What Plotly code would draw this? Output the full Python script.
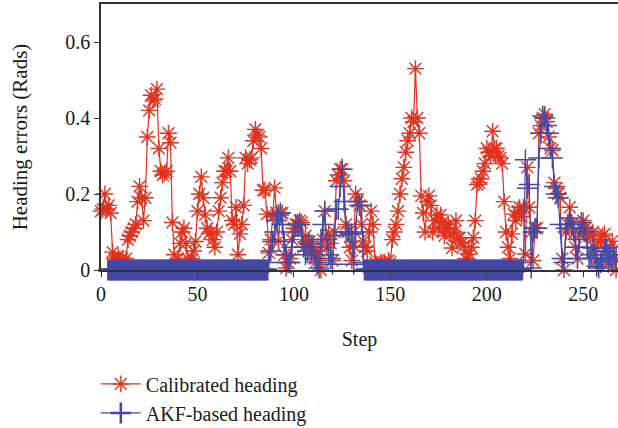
import plotly.graph_objects as go

# Calibrated heading error, steps 0..267
calibrated = [
    0.155, 0.16, 0.20, 0.16, 0.17, 0.15, 0.047, 0.03, 0.02, 0.035,
    0.025, 0.03, 0.02, 0.03, 0.08, 0.09, 0.10, 0.11, 0.12, 0.18,
    0.22, 0.19, 0.13, 0.19, 0.35, 0.42, 0.46, 0.445, 0.45, 0.476,
    0.32, 0.26, 0.25, 0.255, 0.26, 0.36, 0.335, 0.125, 0.04, 0.015,
    0.03, 0.07, 0.10, 0.11, 0.07, 0.03, 0.02, 0.03, 0.05, 0.075,
    0.155, 0.20, 0.245, 0.19, 0.145, 0.11, 0.095, 0.10, 0.08, 0.06,
    0.10, 0.155, 0.19, 0.23, 0.26, 0.26, 0.295, 0.26, 0.13, 0.12,
    0.165, 0.04, 0.095, 0.12, 0.17, 0.295, 0.28, 0.29, 0.295, 0.34,
    0.37, 0.355, 0.35, 0.32, 0.21, 0.21, 0.147, 0.045, 0.08, 0.14,
    0.216, 0.15, 0.076, 0.15, 0.15, 0.04, 0.005, 0.02, 0.03, 0.08,
    0.11, 0.12, 0.12, 0.13, 0.125, 0.06, 0.09, 0.07, 0.075, 0.04,
    0.06, 0.03, 0.025, 0.05, 0.0, 0.08, 0.155, 0.06, 0.095, 0.07,
    0.025, 0.10, 0.235, 0.25, 0.265, 0.265, 0.235, 0.12, 0.10, 0.06,
    0.025, 0.063, 0.20, 0.18, 0.17, 0.12, 0.076, 0.06, 0.05, 0.10,
    0.155, 0.12, 0.02, 0.015, 0.01, 0.02, 0.015, 0.02, 0.01, 0.025,
    0.02, 0.08, 0.10, 0.12, 0.155, 0.20, 0.24, 0.27, 0.31, 0.34,
    0.36, 0.40, 0.39, 0.53, 0.40, 0.36, 0.195, 0.15, 0.10, 0.18,
    0.195, 0.17, 0.10, 0.13, 0.145, 0.11, 0.145, 0.125, 0.09, 0.11,
    0.12, 0.095, 0.058, 0.10, 0.13, 0.085, 0.085, 0.07, 0.063, 0.03,
    0.025, 0.042, 0.06, 0.085, 0.13, 0.225, 0.23, 0.24, 0.26, 0.28,
    0.32, 0.31, 0.30, 0.365, 0.32, 0.32, 0.30, 0.295, 0.28, 0.18,
    0.10, 0.06, 0.03, 0.095, 0.147, 0.13, 0.155, 0.165, 0.14, 0.165,
    0.042, 0.27, 0.165, 0.10, 0.025, 0.11, 0.11, 0.36, 0.38, 0.40,
    0.41, 0.39, 0.35, 0.32, 0.315, 0.23, 0.215, 0.20, 0.19, 0.03,
    0.0, 0.10, 0.12, 0.165, 0.12, 0.095, 0.06, 0.03, 0.095, 0.12,
    0.13, 0.11, 0.10, 0.09, 0.095, 0.10, 0.06, 0.025, 0.076, 0.08,
    0.09, 0.095, 0.05, 0.015, 0.06, 0.076, 0.03, 0.0,
]

# AKF-based heading error, steps 0..267 (None = no sample drawn)
akf = [
    None, None, None, None, 0, 0, 0, 0, 0, 0,
    0, 0, 0, 0, 0, 0, 0, 0, 0, 0,
    0, 0, 0, 0, 0, 0, 0, 0, 0, 0,
    0, 0, 0, 0, 0, 0, 0, 0, 0, 0,
    0, 0, 0, 0, 0, 0, 0, 0, 0, 0,
    0, 0, 0, 0, 0, 0, 0, 0, 0, 0,
    0, 0, 0, 0, 0, 0, 0, 0, 0, 0,
    0, 0, 0, 0, 0, 0, 0, 0, 0, 0,
    0, 0, 0, 0, 0, 0, 0, 0.02, 0.05, 0.075,
    0.10, 0.13, 0.145, 0.15, 0.12, 0.075, 0.04, 0.02, 0.02, 0.06,
    0.10, 0.12, 0.12, 0.12, 0.09, 0.06, 0.04, 0.05, 0.07, 0.06,
    0.06, 0.03, 0.02, 0.005, 0.08, 0.12, 0.155, 0.08, 0.04, 0.03,
    0.015, 0.09, 0.16, 0.16, 0.22, 0.265, 0.18, 0.10, 0.10, 0.095,
    0.095, 0.015, 0.10, 0.18, 0.17, 0.17, 0.02, 0, 0, 0,
    0, 0, 0, 0, 0, 0, 0, 0, 0, 0,
    0, 0, 0, 0, 0, 0, 0, 0, 0, 0,
    0, 0, 0, 0, 0, 0, 0, 0, 0, 0,
    0, 0, 0, 0, 0, 0, 0, 0, 0, 0,
    0, 0, 0, 0, 0, 0, 0, 0, 0, 0,
    0, 0, 0, 0, 0, 0, 0, 0, 0, 0,
    0, 0, 0, 0, 0, 0, 0, 0, 0, 0,
    0, 0, 0, 0, 0, 0, 0, 0, 0, 0.02,
    0.29, 0.215, 0.225, 0.005, 0.10, 0.11, 0.11, 0.295, 0.36, 0.405,
    0.40, 0.38, 0.36, 0.32, 0.295, 0.22, 0.20, 0.19, 0.12, 0.03,
    0.02, 0.11, 0.12, 0.137, 0.12, 0.11, 0.06, 0.03, 0.08, 0.125,
    0.11, 0.10, 0.06, 0.03, 0.04, 0.058, 0.03, 0.01, 0.005, 0.02,
    0.03, 0.05, 0.058, 0.04, 0.03, 0.025, 0.04, 0.03,
]

steps = list(range(len(calibrated)))
x_ticks = [0, 50, 100, 150, 200, 250]
y_ticks = [0, 0.2, 0.4, 0.6]
y_ticklabels = ["0", "0.2", "0.4", "0.6"]

RED = "#E2311D"
BLUE = "#4349A5"
FONT = "Liberation Serif"

# dense zero-valued markers merge into a solid band in the original rendering
blue_marker_widths = [3.2 if v == 0 else 1.5 for v in akf]

fig = go.Figure()
fig.add_trace(go.Scatter(
    x=steps, y=calibrated, mode="lines+markers", name="Calibrated heading",
    line=dict(color=RED, width=1.2),
    marker=dict(symbol="asterisk-open", size=14, color=RED,
                line=dict(color=RED, width=1.4)),
    cliponaxis=False,
))
fig.add_trace(go.Scatter(
    x=steps, y=akf, mode="lines+markers", name="AKF-based heading",
    line=dict(color=BLUE, width=1.2),
    marker=dict(symbol="cross-thin-open", size=15, color=BLUE,
                line=dict(color=BLUE, width=blue_marker_widths)),
    cliponaxis=False,
))

fig.update_layout(
    width=618, height=428,
    margin=dict(l=101, r=0, t=4, b=158, autoexpand=False),
    paper_bgcolor="white", plot_bgcolor="white",
    font=dict(family=FONT, size=20, color="#1a1a1a"),
    showlegend=True,
    legend=dict(x=-0.01, y=-0.355, xanchor="left", yanchor="top",
                font=dict(family=FONT, size=20), tracegroupgap=0,
                itemwidth=40, bgcolor="rgba(0,0,0,0)"),
)
fig.update_xaxes(
    range=[0, 268], tickvals=x_ticks, showgrid=False, zeroline=False,
    showline=True, linecolor="#333333", linewidth=1.5, mirror=True,
    ticks="outside", ticklen=5, tickcolor="#333333", automargin=False,
    title=dict(text="Step", standoff=28, font=dict(family=FONT, size=20)),
)
fig.update_yaxes(
    range=[0, 0.7], tickvals=y_ticks, ticktext=y_ticklabels, showgrid=False,
    zeroline=False, showline=True, linecolor="#333333", linewidth=1.5,
    ticks="outside", ticklen=5, tickcolor="#333333", automargin=False,
    title=dict(text="Heading errors (Rads)", standoff=32,
               font=dict(family=FONT, size=21)),
)

fig.write_html("out.html")
